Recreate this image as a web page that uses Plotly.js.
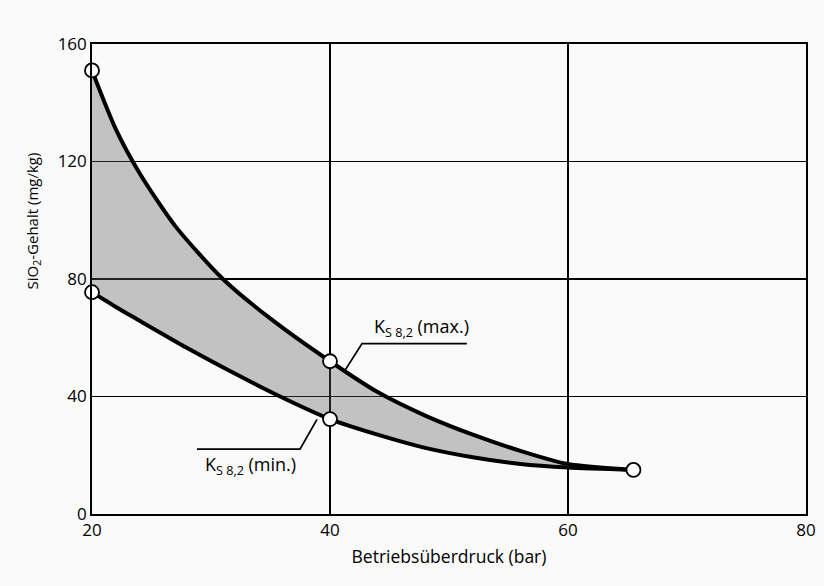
<!DOCTYPE html>
<html>
<head>
<meta charset="utf-8">
<script src="https://cdn.plot.ly/plotly-3.0.1.min.js"></script>
<style>html,body{margin:0;padding:0;background:#fafafa;}#chart{width:824px;height:586px;}</style>
</head>
<body>
<div id="chart"></div>
<script>
// Upper curve: K_S 8,2 (max.)
const upperX = [20, 22, 24, 27, 31, 35, 40, 44, 48, 52, 56, 60, 65.5];
const upperY = [151, 131, 116, 98, 80, 66.5, 52, 41.5, 33.5, 27, 21.5, 17, 15];
// Lower curve: K_S 8,2 (min.)
const lowerX = [20, 22, 24, 28, 32, 35.5, 40, 44, 48, 52, 56, 60, 65.5];
const lowerY = [75.5, 70.5, 65.8, 56.5, 47.8, 40.6, 32.3, 27, 22.5, 19.3, 17, 15.8, 15];
// Marked points
const pointX = [20, 20, 40, 40, 65.5];
const pointY = [151, 75.5, 52, 32.3, 15];
// Axis ticks
const xTicks = [20, 40, 60, 80];
const yTicks = [0, 40, 80, 120, 160];
// Labels
const labelMax = "K<sub>S 8,2</sub> (max.)";
const labelMin = "K<sub>S 8,2</sub> (min.)";
const xTitle = "Betriebsüberdruck (bar)";
const yTitle = "SiO<sub>2</sub>-Gehalt (mg/kg)";

const FONT = "'Open Sans', 'DejaVu Sans', sans-serif";

const traces = [
  {x: lowerX, y: lowerY, mode: 'lines', line: {color: 'black', width: 4, shape: 'spline', smoothing: 0.7}, hoverinfo: 'skip', showlegend: false},
  {x: upperX, y: upperY, mode: 'lines', fill: 'tonexty', fillcolor: 'rgba(90,90,90,0.35)',
   line: {color: 'black', width: 4, shape: 'spline', smoothing: 0.7}, hoverinfo: 'skip', showlegend: false},
  {x: pointX, y: pointY, mode: 'markers', cliponaxis: false,
   marker: {size: 14, color: 'white', line: {color: 'black', width: 1.8}}, showlegend: false}
];

const layout = {
  width: 824, height: 586,
  paper_bgcolor: '#fafafa', plot_bgcolor: '#fafafa',
  margin: {l: 92, r: 18, t: 44, b: 72},
  font: {family: FONT, size: 17, color: 'black'},
  showlegend: false,
  xaxis: {
    range: [20, 80], tickvals: xTicks, ticktext: xTicks.map(String),
    showgrid: true, gridcolor: 'black', gridwidth: 1.5,
    showline: true, linecolor: 'black', linewidth: 1.8, mirror: true,
    zeroline: false, ticks: '', tickfont: {family: FONT, size: 17},
    title: {text: xTitle, font: {family: FONT, size: 17.5}, standoff: 10}
  },
  yaxis: {
    range: [0, 160], tickvals: yTicks, ticktext: yTicks.map(String),
    showgrid: true, gridcolor: 'black', gridwidth: 1.5,
    showline: true, linecolor: 'black', linewidth: 1.8, mirror: true,
    zeroline: false, ticks: '', tickfont: {family: FONT, size: 17}
  },
  annotations: [
    {xref: 'paper', yref: 'paper', x: -0.083, y: 0.624, xanchor: 'center', yanchor: 'middle',
     text: yTitle, textangle: -90, showarrow: false, font: {family: FONT, size: 15}},
    {x: 47.7, y: 63.5, text: labelMax, showarrow: false, font: {family: FONT, size: 18}},
    {x: 33.3, y: 16.4, text: labelMin, showarrow: false, font: {family: FONT, size: 18}}
  ],
  shapes: [
    {type: 'path', path: 'M 51.5 58 L 42.69 58 L 41.26 48.9', line: {color: 'black', width: 1.8}},
    {type: 'path', path: 'M 28.82 22.06 L 37.48 22.06 L 38.91 32.2', line: {color: 'black', width: 1.8}}
  ]
};

Plotly.newPlot('chart', traces, layout, {displayModeBar: false, staticPlot: true});
</script>
</body>
</html>
